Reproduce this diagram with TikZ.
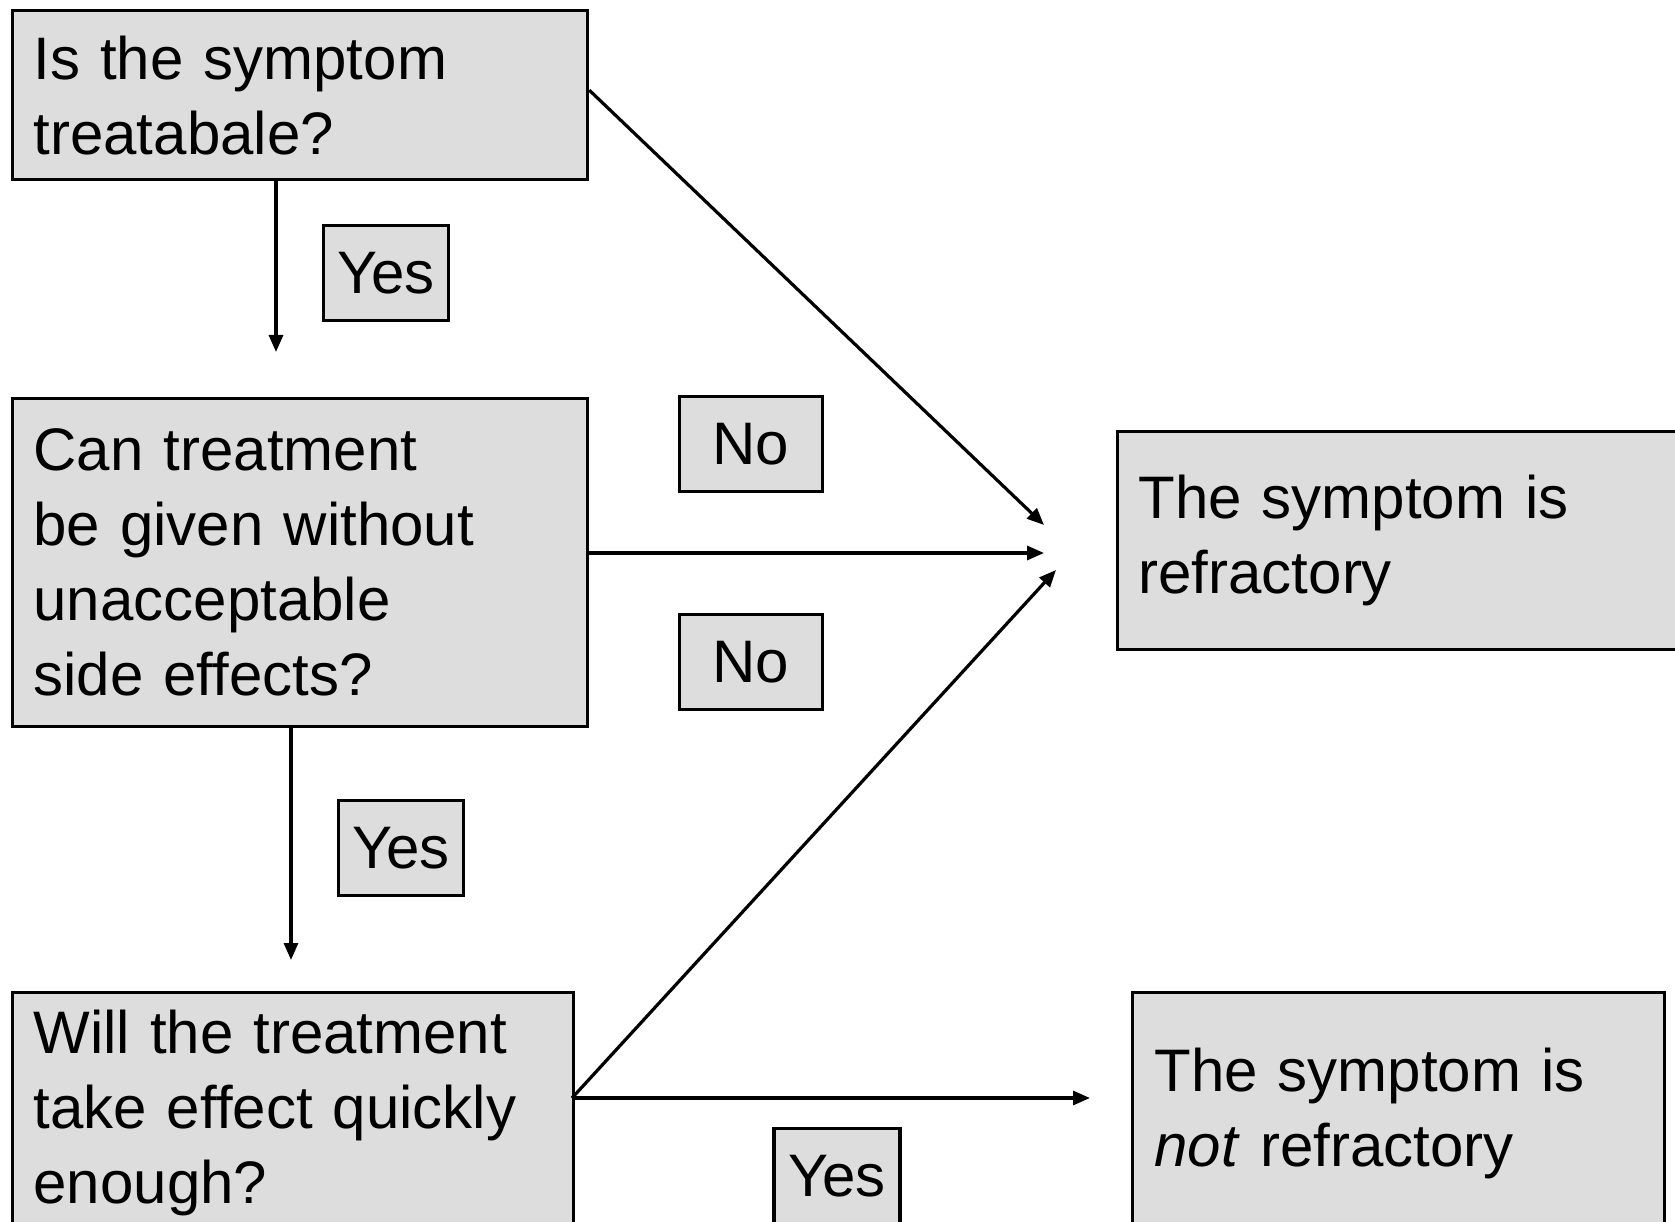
\documentclass[tikz,border=0pt]{standalone}
\usepackage{fontspec}
\setmainfont{Liberation Sans}
\usetikzlibrary{positioning,arrows.meta}
\definecolor{boxgray}{RGB}{221,221,221}

\begin{document}
\begin{tikzpicture}
	[x=1pt, y=-1pt,
	qbox/.style={draw, line width=3.2pt, fill=boxgray, anchor=north west, align=left, inner xsep=21pt, font=\fontsize{60}{75}\selectfont},
	lbl/.style={draw, line width=3.2pt, fill=boxgray, minimum height=95pt, font=\fontsize{60}{75}\selectfont},
	flow/.style={-{Triangle[length=17pt,width=14pt]}, line width=3.2pt}]
	\useasboundingbox (0,0) rectangle (1675,1222);
	\fill[white] (0,0) rectangle (1675,1222);
	\clip (0,0) rectangle (1675,1222);

	% questions
	\node (treat) [qbox, text width=533pt, minimum height=169pt] at (11,9) {Is the symptom\\treatabale?};
	\node (side) [qbox, text width=533pt, minimum height=328pt] at (11,397) {Can treatment\\be given without\\unacceptable\\side effects?};
	\node (quick) [qbox, text width=519pt, minimum height=241pt] at (11,991) {Will the treatment\\take effect quickly\\enough?};

	% outcomes
	\node (refr) [qbox, text width=542pt, minimum height=218pt] at (1116,430) {The symptom is\\refractory};
	\node (notrefr) [qbox, text width=488pt, minimum height=241pt, inner xsep=22pt] at (1131,991) {The symptom is\\\textit{not} refractory};

	% answers
	\node (yes1) [lbl, minimum width=125pt] at (386,273) {Yes};
	\node (yes2) [lbl, minimum width=125pt] at (401,848) {Yes};
	\node (no1) [lbl, minimum width=143pt] at (751,444) {No};
	\node (no2) [lbl, minimum width=143pt] at (751,662) {No};
	\node (yes3) [lbl, minimum width=126pt] at (837,1176) {Yes};

	% arrow ends
	\coordinate (treatend) at (276,352);
	\coordinate (sideend) at (291,960);
	\coordinate (refrtop) at (1044,525);
	\coordinate (refrmid) at (1044,553);
	\coordinate (refrlow) at (1056,570);
	\coordinate (notend) at (1090,1098);
	\coordinate (quickout) at (572,1098);

	\draw[flow] (treatend |- treat.south) -- (treatend);
	\draw[flow] (sideend |- side.south) -- (sideend);
	\draw[flow] ([yshift=5pt]treat.east) -- (refrtop);
	\draw[flow] (refrmid -| side.east) -- (refrmid);
	\draw[flow] (quickout) -- (refrlow);
	\draw[flow] (quickout) -- (notend);
\end{tikzpicture}
\end{document}
